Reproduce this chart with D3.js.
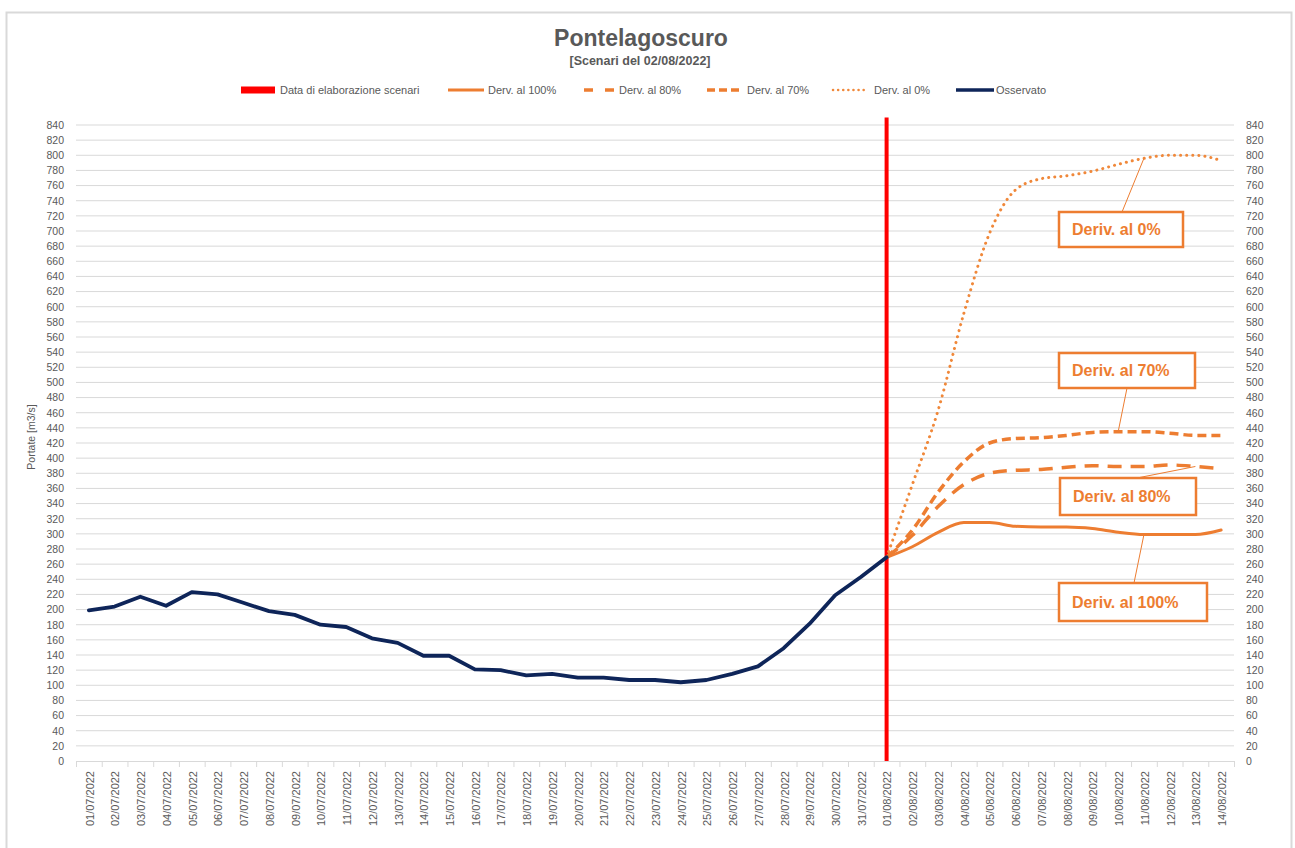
<!DOCTYPE html>
<html>
<head>
<meta charset="utf-8">
<script src="https://cdn.jsdelivr.net/npm/d3@7"></script>
<style>
  html, body { margin: 0; padding: 0; background: #fff; }
  svg { display: block; font-family: "Liberation Sans", Arial, sans-serif; }
</style>
</head>
<body>
<svg id="chart" width="1295" height="848"></svg>
<script>
// ---------- DATA ----------
const dates = [
  "01/07/2022","02/07/2022","03/07/2022","04/07/2022","05/07/2022","06/07/2022","07/07/2022","08/07/2022",
  "09/07/2022","10/07/2022","11/07/2022","12/07/2022","13/07/2022","14/07/2022","15/07/2022","16/07/2022",
  "17/07/2022","18/07/2022","19/07/2022","20/07/2022","21/07/2022","22/07/2022","23/07/2022","24/07/2022",
  "25/07/2022","26/07/2022","27/07/2022","28/07/2022","29/07/2022","30/07/2022","31/07/2022","01/08/2022",
  "02/08/2022","03/08/2022","04/08/2022","05/08/2022","06/08/2022","07/08/2022","08/08/2022","09/08/2022",
  "10/08/2022","11/08/2022","12/08/2022","13/08/2022","14/08/2022"
];
const observed = [199, 204, 217, 205, 223, 220, 209, 198, 193, 180, 177, 162, 156, 139, 139, 121,
                  120, 113, 115, 110, 110, 107, 107, 104, 107, 115, 125, 149, 181, 219, 243, 269];
const scenarioDates = dates.slice(31);
const deriv100 = [269, 283, 302, 315, 315, 310, 309, 309, 307, 302, 299, 299, 299, 305];
const deriv80  = [269, 298, 336, 365, 380, 384, 385, 388, 390, 389, 389, 391, 389, 386];
const deriv70  = [269, 305, 355, 395, 420, 426, 427, 430, 434, 435, 435, 433, 430, 430];
const deriv0   = [269, 365, 463, 591, 697, 754, 769, 773, 779, 788, 796, 800, 800, 793];
const elaborationDate = "01/08/2022";
const yTicks = d3.range(0, 841, 20);
const legendLabels = ["Data di elaborazione scenari", "Derv. al 100%", "Derv. al 80%", "Derv. al 70%", "Derv. al 0%", "Osservato"];
const annotationLabels = ["Deriv. al 0%", "Deriv. al 70%", "Deriv. al 80%", "Deriv. al 100%"];

// ---------- LAYOUT ----------
const plot = { left: 76, right: 1234, top: 125, bottom: 761 };
const ORANGE = "#ED7D31", NAVY = "#0E2559", GRID = "#D9D9D9", TXT = "#595959";

const svg = d3.select("#chart");

// chart border
svg.append("rect").attr("x", 6.5).attr("y", 12.5).attr("width", 1285).attr("height", 850)
  .attr("fill", "none").attr("stroke", "#D9D9D9").attr("stroke-width", 2);

const x = d3.scaleBand().domain(dates).range([plot.left, plot.right]).paddingInner(0).paddingOuter(0);
const cx = d => x(d) + x.bandwidth() / 2;
const y = d3.scaleLinear().domain([0, 840]).range([plot.bottom, plot.top]);

// gridlines
svg.append("g").selectAll("line").data(yTicks.filter(t => t > 0)).join("line")
  .attr("x1", plot.left).attr("x2", plot.right)
  .attr("y1", d => y(d)).attr("y2", d => y(d))
  .attr("stroke", GRID).attr("stroke-width", 1);

// left axis labels
const yAxisL = d3.axisLeft(y).tickValues(yTicks).tickSize(0).tickPadding(12);
const gL = svg.append("g").attr("transform", `translate(${plot.left},0)`).call(yAxisL);
gL.select(".domain").remove();
gL.selectAll("text").attr("fill", TXT).style("font-size", "10.5px").style("font-family", "Liberation Sans, Arial, sans-serif");

// right axis labels
const yAxisR = d3.axisRight(y).tickValues(yTicks).tickSize(0).tickPadding(12);
const gR = svg.append("g").attr("transform", `translate(${plot.right},0)`).call(yAxisR);
gR.select(".domain").remove();
gR.selectAll("text").attr("fill", TXT).style("font-size", "10.5px").style("font-family", "Liberation Sans, Arial, sans-serif");

// x axis line and ticks
svg.append("line").attr("x1", plot.left).attr("x2", plot.right)
  .attr("y1", plot.bottom + 0.5).attr("y2", plot.bottom + 0.5).attr("stroke", GRID).attr("stroke-width", 1);
const boundaries = dates.map(d => x(d)).concat([plot.right]);
svg.append("g").selectAll("line").data(boundaries).join("line")
  .attr("x1", d => d + 0.5).attr("x2", d => d + 0.5)
  .attr("y1", plot.bottom).attr("y2", plot.bottom + 6)
  .attr("stroke", GRID).attr("stroke-width", 1);

// x labels
svg.append("g").selectAll("text").data(dates).join("text")
  .attr("transform", d => `translate(${cx(d) + 1},${plot.bottom + 10}) rotate(-90)`)
  .attr("text-anchor", "end").attr("dy", "0.35em")
  .attr("fill", TXT).style("font-size", "11px")
  .text(d => d);

// y axis title
svg.append("text").attr("transform", `translate(35,437) rotate(-90)`)
  .attr("text-anchor", "middle").attr("fill", TXT).style("font-size", "10.5px")
  .text("Portate [m3/s]");

// title
svg.append("text").attr("x", 641).attr("y", 46).attr("text-anchor", "middle")
  .attr("fill", TXT).style("font-size", "23px").style("font-weight", "bold").text("Pontelagoscuro");
svg.append("text").attr("x", 640).attr("y", 65).attr("text-anchor", "middle")
  .attr("fill", TXT).style("font-size", "12.5px").style("font-weight", "bold").text("[Scenari del 02/08/2022]");

// red elaboration line
svg.append("line")
  .attr("x1", cx(elaborationDate)).attr("x2", cx(elaborationDate))
  .attr("y1", y(850)).attr("y2", plot.bottom)
  .attr("stroke", "#FF0000").attr("stroke-width", 4);

// series
const scen = vals => vals.map((v, i) => ({ d: scenarioDates[i], v }));
const lineGen = d3.line().x(p => cx(p.d)).y(p => y(p.v));
const smooth = d3.line().x(p => cx(p.d)).y(p => y(p.v)).curve(d3.curveMonotoneX);

const seriesStyles = [
  { data: scen(deriv0), color: "#F0883A", width: 3, dash: "0.1,6", cap: "round", gen: smooth },
  { data: scen(deriv70), color: ORANGE, width: 3.5, dash: "9,5", cap: "butt", gen: smooth },
  { data: scen(deriv80), color: ORANGE, width: 3.5, dash: "14,9", cap: "butt", gen: smooth },
  { data: scen(deriv100), color: ORANGE, width: 3, dash: null, cap: "round", gen: smooth }
];
seriesStyles.forEach(s => {
  svg.append("path").attr("d", s.gen(s.data)).attr("fill", "none")
    .attr("stroke", s.color).attr("stroke-width", s.width)
    .attr("stroke-dasharray", s.dash).attr("stroke-linecap", s.cap).attr("stroke-linejoin", "round");
});
svg.append("path").attr("d", lineGen(observed.map((v, i) => ({ d: dates[i], v }))))
  .attr("fill", "none").attr("stroke", NAVY).attr("stroke-width", 3.8)
  .attr("stroke-linejoin", "round").attr("stroke-linecap", "round");

// legend
const legendY = 90;
const legendItems = [
  { label: legendLabels[0], sx: 241, sw: 34, tx: 280, type: "rect", color: "#FF0000" },
  { label: legendLabels[1], sx: 448, sw: 36, tx: 488, type: "line", color: ORANGE, dash: null, width: 3 },
  { label: legendLabels[2], sx: 584, sw: 30, tx: 619, type: "line", color: ORANGE, dash: "9,12", width: 3.5 },
  { label: legendLabels[3], sx: 707, sw: 35, tx: 747, type: "line", color: ORANGE, dash: "8,4", width: 3.5 },
  { label: legendLabels[4], sx: 833, sw: 35, tx: 874, type: "line", color: "#F0883A", dash: "0.1,5", width: 2.5, cap: "round" },
  { label: legendLabels[5], sx: 956, sw: 38, tx: 996, type: "line", color: NAVY, dash: null, width: 3.5 }
];
const lg = svg.append("g");
legendItems.forEach(it => {
  if (it.type === "rect") {
    lg.append("rect").attr("x", it.sx).attr("y", legendY - 3.5).attr("width", it.sw).attr("height", 7).attr("fill", it.color);
  } else {
    lg.append("line").attr("x1", it.sx).attr("x2", it.sx + it.sw).attr("y1", legendY).attr("y2", legendY)
      .attr("stroke", it.color).attr("stroke-width", it.width).attr("stroke-dasharray", it.dash)
      .attr("stroke-linecap", it.cap || "butt");
  }
  lg.append("text").attr("x", it.tx).attr("y", legendY).attr("dy", "0.35em")
    .attr("fill", TXT).style("font-size", "11px").text(it.label);
});

// annotations
const annotations = [
  { label: annotationLabels[0], series: deriv0, at: "11/08/2022", bx: 1059, by: 212, bw: 124, bh: 35, ax: 1122, edge: "top" },
  { label: annotationLabels[1], series: deriv70, at: "10/08/2022", bx: 1059, by: 353, bw: 136, bh: 35, ax: 1127, edge: "bottom" },
  { label: annotationLabels[2], series: deriv80, at: "13/08/2022", bx: 1060, by: 478, bw: 136, bh: 37, ax: 1137, edge: "top" },
  { label: annotationLabels[3], series: deriv100, at: "11/08/2022", bx: 1059, by: 583, bw: 148, bh: 38, ax: 1134, edge: "top" }
];
const ag = svg.append("g");
annotations.forEach(a => {
  const idx = scenarioDates.indexOf(a.at);
  const px = cx(a.at), py = y(a.series[idx]);
  const ay = a.edge === "top" ? a.by : a.by + a.bh;
  ag.append("line").attr("x1", a.ax).attr("y1", ay).attr("x2", px).attr("y2", py)
    .attr("stroke", ORANGE).attr("stroke-width", 1);
  ag.append("rect").attr("x", a.bx).attr("y", a.by).attr("width", a.bw).attr("height", a.bh)
    .attr("fill", "#fff").attr("stroke", ORANGE).attr("stroke-width", 2.5);
  ag.append("text").attr("x", a.bx + 13).attr("y", a.by + a.bh / 2).attr("dy", "0.36em")
    .attr("fill", ORANGE).style("font-size", "16px").style("font-weight", "bold").text(a.label);
});
</script>
</body>
</html>
